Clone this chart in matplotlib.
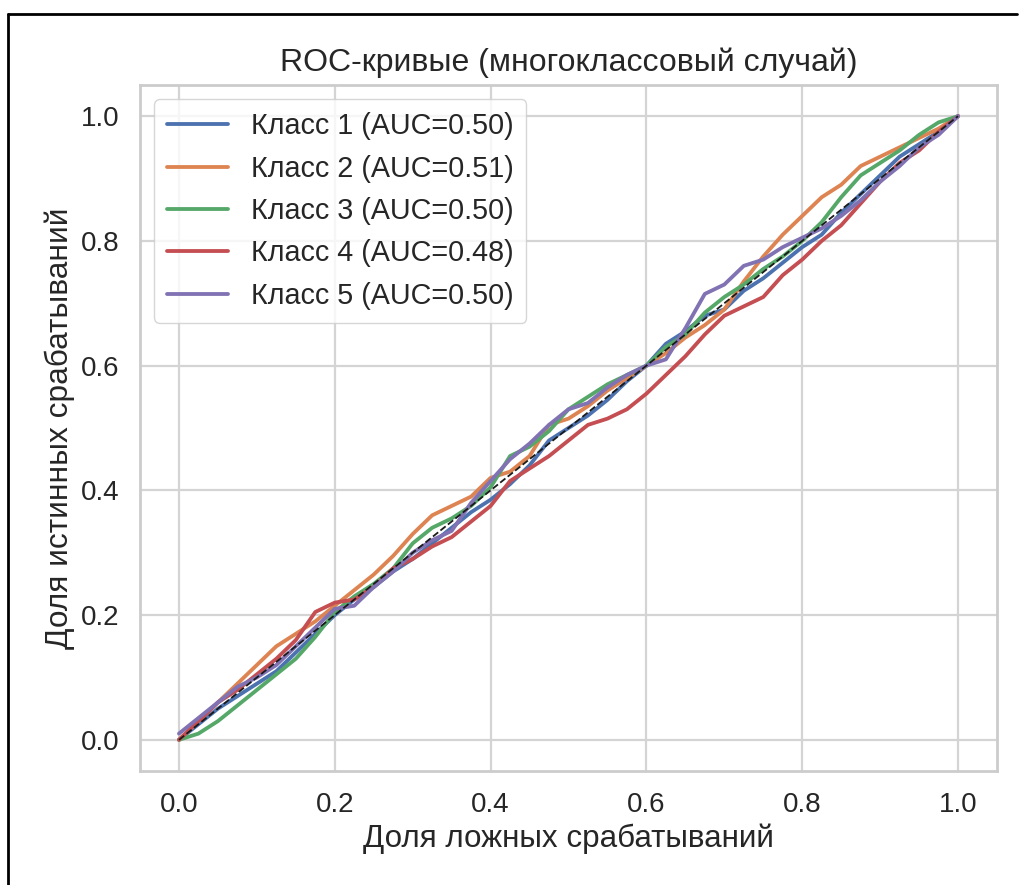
import matplotlib
matplotlib.use('Agg')
import matplotlib.pyplot as plt
import seaborn as sns
import numpy as np
from matplotlib.lines import Line2D

# fpr grid shared by all curves
fpr = [0.0, 0.025, 0.05, 0.075, 0.1, 0.125, 0.15, 0.175, 0.2, 0.225,
       0.25, 0.275, 0.3, 0.325, 0.35, 0.375, 0.4, 0.425, 0.45, 0.475,
       0.5, 0.525, 0.55, 0.575, 0.6, 0.625, 0.65, 0.675, 0.7, 0.725,
       0.75, 0.775, 0.8, 0.825, 0.85, 0.875, 0.9, 0.925, 0.95, 0.975, 1.0]

tpr_class1 = [0.0, 0.025, 0.05, 0.07, 0.09, 0.11, 0.14, 0.17, 0.2, 0.225,
              0.245, 0.27, 0.29, 0.315, 0.34, 0.365, 0.385, 0.41, 0.44, 0.48,
              0.5, 0.52, 0.545, 0.575, 0.6, 0.635, 0.655, 0.68, 0.69, 0.72,
              0.74, 0.765, 0.79, 0.81, 0.845, 0.875, 0.905, 0.935, 0.955, 0.975, 1.0]
tpr_class2 = [0.0, 0.03, 0.06, 0.09, 0.12, 0.15, 0.17, 0.19, 0.215, 0.24,
              0.265, 0.295, 0.33, 0.36, 0.375, 0.39, 0.42, 0.43, 0.455, 0.505,
              0.515, 0.535, 0.56, 0.58, 0.6, 0.62, 0.645, 0.665, 0.69, 0.735,
              0.775, 0.81, 0.84, 0.87, 0.89, 0.92, 0.935, 0.95, 0.965, 0.98, 1.0]
tpr_class3 = [0.0, 0.01, 0.03, 0.055, 0.08, 0.105, 0.13, 0.165, 0.205, 0.23,
              0.25, 0.275, 0.315, 0.34, 0.355, 0.375, 0.405, 0.455, 0.47, 0.495,
              0.53, 0.55, 0.57, 0.585, 0.6, 0.63, 0.65, 0.685, 0.71, 0.73,
              0.755, 0.775, 0.8, 0.83, 0.87, 0.905, 0.925, 0.945, 0.97, 0.99, 1.0]
tpr_class4 = [0.0, 0.03, 0.06, 0.08, 0.105, 0.13, 0.16, 0.205, 0.22, 0.225,
              0.245, 0.275, 0.29, 0.31, 0.325, 0.35, 0.375, 0.415, 0.435, 0.455,
              0.48, 0.505, 0.515, 0.53, 0.555, 0.585, 0.615, 0.65, 0.68, 0.695,
              0.71, 0.745, 0.77, 0.8, 0.825, 0.86, 0.895, 0.925, 0.945, 0.975, 1.0]
tpr_class5 = [0.01, 0.035, 0.06, 0.085, 0.1, 0.12, 0.15, 0.18, 0.21, 0.215,
              0.245, 0.27, 0.3, 0.32, 0.335, 0.38, 0.415, 0.45, 0.475, 0.505,
              0.53, 0.54, 0.565, 0.585, 0.6, 0.61, 0.66, 0.715, 0.73, 0.76,
              0.77, 0.79, 0.805, 0.82, 0.84, 0.865, 0.895, 0.92, 0.95, 0.97, 1.0]

auc_values = [0.50, 0.51, 0.50, 0.48, 0.50]
class_names = ['Класс 1', 'Класс 2', 'Класс 3', 'Класс 4', 'Класс 5']
tpr_all = [tpr_class1, tpr_class2, tpr_class3, tpr_class4, tpr_class5]

sns.set_theme(style='whitegrid')
plt.rcParams['font.family'] = ['Liberation Sans', 'DejaVu Sans']
plt.rcParams['axes.edgecolor'] = '#cccccc'
plt.rcParams['grid.color'] = '#d4d4d4'

fig = plt.figure(figsize=(10.19, 8.85), dpi=100)
ax = fig.add_axes([0.1374, 0.1288, 0.841, 0.7752])

colors = sns.color_palette('deep', 5)
for name, tpr, auc, c in zip(class_names, tpr_all, auc_values, colors):
    ax.plot(fpr, tpr, color=c, lw=2.75, label=f'{name} (AUC={auc:.2f})')

ax.plot([0, 1], [0, 1], 'k--', lw=1.3)

ax.set_title('ROC-кривые (многоклассовый случай)', fontsize=23, color='#262626', pad=10)
ax.set_xlabel('Доля ложных срабатываний', fontsize=22.6, color='#262626', labelpad=4)
ax.set_ylabel('Доля истинных срабатываний', fontsize=22.8, color='#262626', labelpad=4)
ax.tick_params(labelsize=20, colors='#262626', pad=9)
ax.set_xticks(np.arange(0, 1.01, 0.2))
ax.set_yticks(np.arange(0, 1.01, 0.2))
for s in ax.spines.values():
    s.set_linewidth(2)
ax.grid(lw=1.6)

ax.legend(loc='upper left', fontsize=20.7, handlelength=2.1, borderpad=0.45,
          labelspacing=0.5, handletextpad=0.8)

# screenshot frame (left and top edge)
fig.add_artist(Line2D([8 / 1019, 8 / 1019], [0, 1 - 14 / 885], color='black', lw=2))
fig.add_artist(Line2D([8 / 1019, 1017 / 1019], [1 - 14 / 885, 1 - 14 / 885], color='black', lw=2))

fig.savefig('out.png', dpi=100)
